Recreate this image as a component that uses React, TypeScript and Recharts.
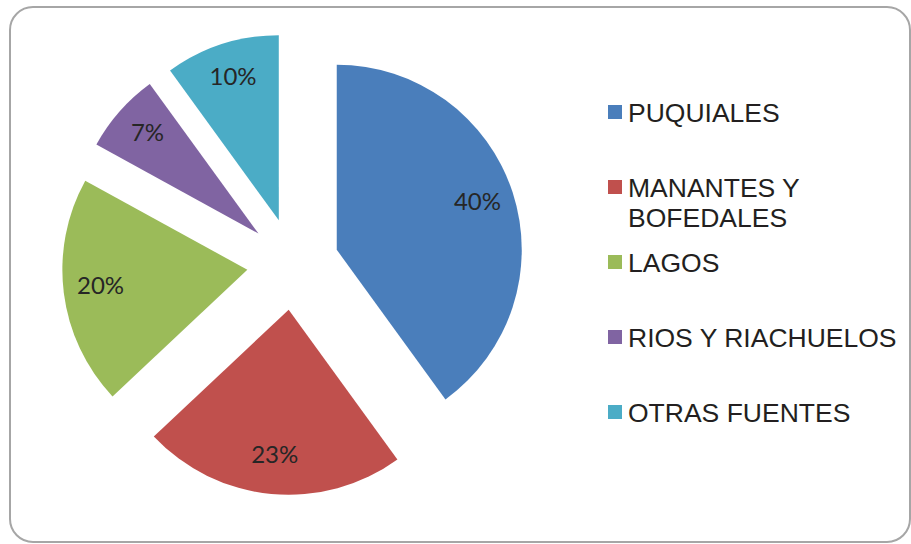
import React from 'react';
import { PieChart, Pie, Cell, Legend } from 'recharts';

const categories = ['PUQUIALES', 'MANANTES Y BOFEDALES', 'LAGOS', 'RIOS Y RIACHUELOS', 'OTRAS FUENTES'];
const shares = [40, 23, 20, 7, 10];
const colors = ['#4a7ebb', '#c0504d', '#9bbb59', '#8064a2', '#4bacc6'];

const data = categories.map((name, i) => ({ name, value: shares[i] }));

const CX = 293;
const CY = 264;
const RADIUS = 185;
const EXPLODE = 46;
const RAD = Math.PI / 180;

const total = shares.reduce((a, b) => a + b, 0);

// centre of each exploded slice, pushed out along its bisector
const sliceCenter = (k: number) => {
  const before = shares.slice(0, k).reduce((a, b) => a + b, 0);
  const mid = ((before + shares[k] / 2) / total) * 360;
  return {
    x: CX + EXPLODE * Math.sin(mid * RAD),
    y: CY - EXPLODE * Math.cos(mid * RAD),
  };
};

const makeLabel = (k: number) => (props: any) => {
  if (props.index !== k) return null;
  const r = props.outerRadius * 0.8;
  const x = props.cx + r * Math.cos(-props.midAngle * RAD);
  const y = props.cy + r * Math.sin(-props.midAngle * RAD) - 4;
  return (
    <text
      x={x}
      y={y}
      fill="#262626"
      fontSize={24}
      fontFamily="Lato, 'Open Sans', sans-serif"
      textAnchor="middle"
      dominantBaseline="central"
    >
      {`${props.value}%`}
    </text>
  );
};

const LegendContent = () => (
  <div style={{ fontFamily: "'Liberation Sans', Arial, sans-serif", fontSize: 26.5, lineHeight: '30px', color: '#231f20' }}>
    {categories.map((name, i) => (
      <div key={name} style={{ display: 'flex', alignItems: 'flex-start', height: 75 }}>
        <div style={{ width: 14, height: 14, background: colors[i], marginTop: 7, marginRight: 6, flexShrink: 0 }} />
        <div style={{ width: 285 }}>{name}</div>
      </div>
    ))}
  </div>
);

export default function App() {
  return (
    <div style={{ position: 'absolute', left: 0, top: 0, width: 911, height: 544, background: '#fff' }}>
      <div
        style={{
          position: 'absolute',
          left: 9,
          top: 6,
          width: 902,
          height: 537,
          boxSizing: 'border-box',
          border: '2px solid #a6a6a6',
          borderRadius: 24,
        }}
      />
      <PieChart width={911} height={544} margin={{ top: 0, right: 0, bottom: 0, left: 0 }} style={{ position: 'absolute', left: 0, top: 0 }}>
        {shares.map((_, k) => {
          const c = sliceCenter(k);
          return (
            <Pie
              key={k}
              data={data}
              dataKey="value"
              nameKey="name"
              cx={c.x}
              cy={c.y}
              outerRadius={RADIUS}
              startAngle={90}
              endAngle={-270}
              label={makeLabel(k)}
              labelLine={false}
              isAnimationActive={false}
            >
              {data.map((d, i) => (
                <Cell key={d.name} fill={i === k ? colors[i] : 'none'} stroke="none" />
              ))}
            </Pie>
          );
        })}
        <Legend
          layout="vertical"
          align="right"
          verticalAlign="top"
          content={LegendContent}
          wrapperStyle={{ position: 'absolute', left: 608, top: 98, width: 305 }}
        />
      </PieChart>
    </div>
  );
}
